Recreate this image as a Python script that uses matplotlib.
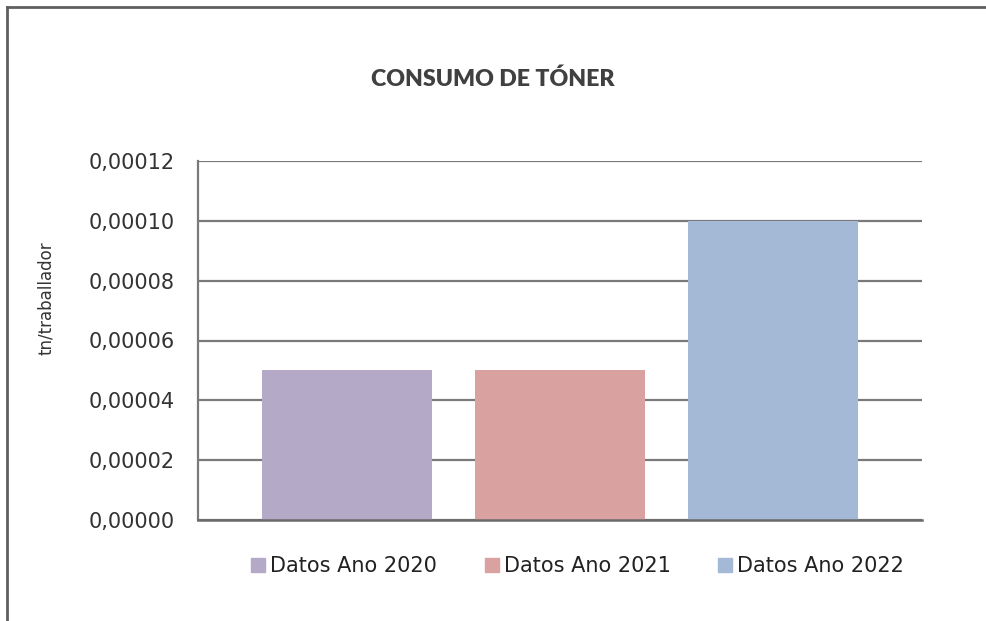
import matplotlib
matplotlib.use("Agg")
import matplotlib.pyplot as plt
from matplotlib.lines import Line2D
from matplotlib.ticker import FuncFormatter

title = "CONSUMO DE TÓNER"
ylabel = "tn/traballador"
series = ["Datos Ano 2020", "Datos Ano 2021", "Datos Ano 2022"]
values = [0.00005, 0.00005, 0.00010]
colors = ["#B4AAC8", "#D9A1A0", "#A4B9D6"]
yticks = [0.0, 0.00002, 0.00004, 0.00006, 0.00008, 0.00010, 0.00012]

plt.rcParams['font.family'] = ['DejaVu Sans']

fig = plt.figure(figsize=(9.87, 6.21), dpi=100)
W, H = 987, 621
ax = fig.add_axes([198 / W, 1 - 520 / H, (922 - 198) / W, (520 - 161) / H])

xs = list(range(len(values)))
for i, (v, c, lab) in enumerate(zip(values, colors, series)):
    ax.bar(xs[i], v, width=0.8, color=c, label=lab, zorder=3)

ax.set_xlim(-0.70, 2.70)
ax.set_ylim(0, 0.00012)
ax.set_yticks(yticks)
ax.yaxis.set_major_formatter(FuncFormatter(lambda v, p: f"{v:.5f}".replace(".", ",")))
ax.tick_params(axis='y', length=0, pad=16.5, labelsize=15, labelcolor="#333333")
ax.set_xticks([])
ax.grid(axis='y', color="#7a7a7a", linewidth=1.6, zorder=1)
for s in ["top", "right"]:
    ax.spines[s].set_visible(False)
ax.spines["left"].set_color("#7a7a7a")
ax.spines["left"].set_linewidth(1.6)
ax.spines["bottom"].set_color("#6a6a6a")
ax.spines["bottom"].set_linewidth(1.8)
ax.spines["bottom"].set_zorder(4)

fig.text(46 / W, 1 - 298 / H, ylabel, rotation=90, ha='center', va='center',
         fontsize=12, color="#333333")
fig.text(493 / W, 1 - 79 / H, title, ha='center', va='center',
         fontsize=16.7, fontweight='heavy', color="#404040", family=['Lato', 'DejaVu Sans'])

handles = [Line2D([0], [0], marker='s', linestyle='none', markersize=9.5,
                  markerfacecolor=c, markeredgecolor=c) for c in colors]
fig.legend(handles, series, loc='center', bbox_to_anchor=(578 / W, 1 - 566 / H),
           ncol=3, frameon=False, fontsize=15, handlelength=0.65, handletextpad=0.25,
           columnspacing=2.3, labelcolor="#222222", borderpad=0, borderaxespad=0)

# outer frame (top and left edges visible)
fig.add_artist(Line2D([7.5 / W, 7.5 / W], [0, 1 - 7 / H], transform=fig.transFigure,
                      color="#5f5f5f", linewidth=2))
fig.add_artist(Line2D([7.5 / W, 1], [1 - 7 / H, 1 - 7 / H], transform=fig.transFigure,
                      color="#5f5f5f", linewidth=2))

fig.savefig("out.png", dpi=100)
